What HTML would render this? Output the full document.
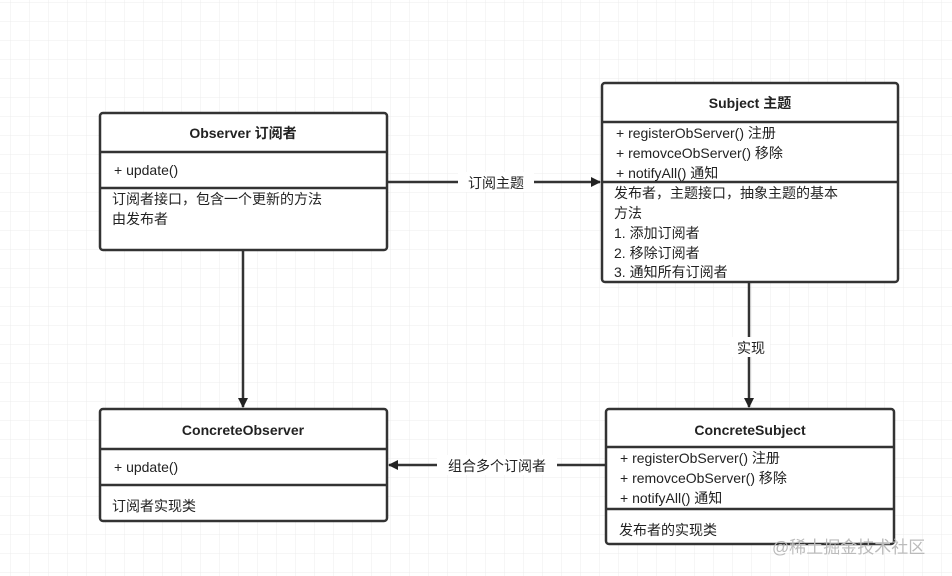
<!DOCTYPE html>
<html><head><meta charset="utf-8"><style>
html,body{margin:0;padding:0;background:#fff}
svg{display:block}
text{font-family:"Liberation Sans","Noto Sans CJK SC",sans-serif;font-size:14px;fill:#222}
.b{font-weight:bold}
</style></head><body>
<svg width="952" height="576" viewBox="0 0 952 576" xmlns="http://www.w3.org/2000/svg">
<defs>
<pattern id="g" x="10" y="2" width="19" height="19" patternUnits="userSpaceOnUse">
<path d="M0 0H19M0 0V19" stroke="#ececec" stroke-width="1" fill="none"/>
</pattern>
<marker id="a" markerWidth="10" markerHeight="10" refX="9" refY="5" orient="auto" markerUnits="userSpaceOnUse">
<path d="M0 0L10 5L0 10Z" fill="#222"/>
</marker>
</defs>
<rect width="952" height="576" fill="url(#g)"/>
<g stroke="#333" stroke-width="2.5" fill="none">
<line x1="388" y1="182" x2="600" y2="182" marker-end="url(#a)"/>
<line x1="243" y1="251" x2="243" y2="407" marker-end="url(#a)"/>
<line x1="749" y1="283" x2="749" y2="407" marker-end="url(#a)"/>
<line x1="605" y1="465" x2="389" y2="465" marker-end="url(#a)"/>
</g>
<rect x="458" y="172" width="76" height="20" fill="#fff"/>
<text x="496" y="188" text-anchor="middle">订阅主题</text>
<rect x="730" y="337" width="40" height="20" fill="#fff"/>
<text x="751" y="353" text-anchor="middle">实现</text>
<rect x="437" y="455" width="120" height="20" fill="#fff"/>
<text x="497" y="471" text-anchor="middle">组合多个订阅者</text>

<g stroke="#333" stroke-width="2.5" fill="#fff">
<rect x="100" y="113" width="287" height="137" rx="3"/>
<rect x="602" y="83" width="296" height="199" rx="3"/>
<rect x="100" y="409" width="287" height="112" rx="3"/>
<rect x="606" y="409" width="288" height="135" rx="3"/>
</g>
<g stroke="#333" stroke-width="2.5">
<line x1="100" y1="152" x2="387" y2="152"/>
<line x1="100" y1="188" x2="387" y2="188"/>
<line x1="602" y1="122" x2="898" y2="122"/>
<line x1="602" y1="182" x2="898" y2="182"/>
<line x1="100" y1="449" x2="387" y2="449"/>
<line x1="100" y1="485" x2="387" y2="485"/>
<line x1="606" y1="447" x2="894" y2="447"/>
<line x1="606" y1="509" x2="894" y2="509"/>
</g>
<text class="b" x="243" y="138" text-anchor="middle">Observer 订阅者</text>
<text x="114" y="175">+ update()</text>
<text x="112" y="204">订阅者接口，包含一个更新的方法</text>
<text x="112" y="224">由发布者</text>

<text class="b" x="750" y="108" text-anchor="middle">Subject 主题</text>
<text x="616" y="138">+ registerObServer() 注册</text>
<text x="616" y="158">+ removceObServer() 移除</text>
<text x="616" y="178">+ notifyAll() 通知</text>
<text x="614" y="198">发布者，主题接口，抽象主题的基本</text>
<text x="614" y="218">方法</text>
<text x="614" y="238">1. 添加订阅者</text>
<text x="614" y="258">2. 移除订阅者</text>
<text x="614" y="277">3. 通知所有订阅者</text>

<text class="b" x="243" y="435" text-anchor="middle">ConcreteObserver</text>
<text x="114" y="472">+ update()</text>
<text x="112" y="511">订阅者实现类</text>

<text class="b" x="750" y="435" text-anchor="middle">ConcreteSubject</text>
<text x="620" y="463">+ registerObServer() 注册</text>
<text x="620" y="483">+ removceObServer() 移除</text>
<text x="620" y="503">+ notifyAll() 通知</text>
<text x="619" y="535">发布者的实现类</text>
<text x="772" y="553" style="font-size:17px;fill:#bbb">@稀土掘金技术社区</text>
</svg>
</body></html>
